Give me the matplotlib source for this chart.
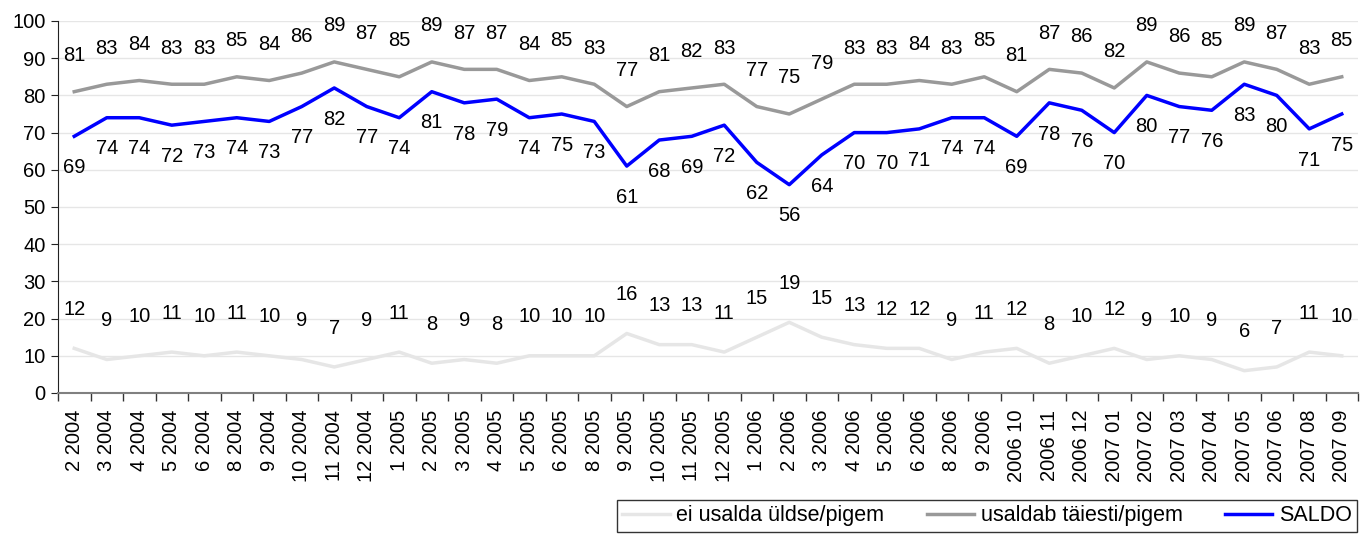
import matplotlib
matplotlib.use("Agg")
import matplotlib.pyplot as plt
import numpy as np

categories = ["2 2004", "3 2004", "4 2004", "5 2004", "6 2004", "8 2004", "9 2004", "10 2004",
              "11 2004", "12 2004", "1 2005", "2 2005", "3 2005", "4 2005", "5 2005", "6 2005",
              "8 2005", "9 2005", "10 2005", "11 2005", "12 2005", "1 2006", "2 2006", "3 2006",
              "4 2006", "5 2006", "6 2006", "8 2006", "9 2006", "2006 10", "2006 11", "2006 12",
              "2007 01", "2007 02", "2007 03", "2007 04", "2007 05", "2007 06", "2007 08", "2007 09"]
ei_usalda = [12, 9, 10, 11, 10, 11, 10, 9, 7, 9, 11, 8, 9, 8, 10, 10, 10, 16, 13, 13, 11, 15, 19, 15,
             13, 12, 12, 9, 11, 12, 8, 10, 12, 9, 10, 9, 6, 7, 11, 10]
usaldab = [81, 83, 84, 83, 83, 85, 84, 86, 89, 87, 85, 89, 87, 87, 84, 85, 83, 77, 81, 82, 83, 77, 75, 79,
           83, 83, 84, 83, 85, 81, 87, 86, 82, 89, 86, 85, 89, 87, 83, 85]
saldo = [69, 74, 74, 72, 73, 74, 73, 77, 82, 77, 74, 81, 78, 79, 74, 75, 73, 61, 68, 69, 72, 62, 56, 64,
         70, 70, 71, 74, 74, 69, 78, 76, 70, 80, 77, 76, 83, 80, 71, 75]

plt.rcParams['font.family'] = ['Liberation Sans', 'DejaVu Sans']
FS = 14.5
W, H = 1371, 536

fig = plt.figure(figsize=(W / 100, H / 100), dpi=100)
ax = fig.add_axes([58 / W, 1 - 393 / H, 1300 / W, 372 / H])

x = np.arange(len(categories))
l1, = ax.plot(x, ei_usalda, color='#e6e6e6', lw=2.5, label='ei usalda üldse/pigem', zorder=3)
l2, = ax.plot(x, usaldab, color='#999999', lw=2.5, label='usaldab täiesti/pigem', zorder=3)
l3, = ax.plot(x, saldo, color='#0000ff', lw=2.5, label='SALDO', zorder=4)

for xi, v in zip(x, ei_usalda):
    ax.annotate(str(v), (xi, v), xytext=(0, 28), textcoords='offset points',
                ha='center', va='center', fontsize=FS)
for xi, v in zip(x, usaldab):
    ax.annotate(str(v), (xi, v), xytext=(0, 26), textcoords='offset points',
                ha='center', va='center', fontsize=FS)
for xi, v in zip(x, saldo):
    ax.annotate(str(v), (xi, v), xytext=(0, -22.5), textcoords='offset points',
                ha='center', va='center', fontsize=FS)

ax.set_xlim(-0.5, len(categories) - 0.5)
ax.set_ylim(0, 100)
ax.set_yticks(np.arange(0, 101, 10))
ax.grid(axis='y', color='#e6e6e6', lw=1)
ax.set_axisbelow(True)

ax.set_xticks(x)
ax.set_xticklabels(categories, rotation=90, fontsize=FS)
ax.set_xticks(np.arange(-0.5, len(categories), 1), minor=True)
ax.tick_params(axis='x', which='major', length=0, pad=12)
ax.tick_params(axis='x', which='minor', length=6, color='#333333', width=1)
ax.tick_params(axis='y', length=5, color='#222222', labelsize=FS, pad=4)

for s in ['top', 'right']:
    ax.spines[s].set_visible(False)
ax.spines['left'].set_color('#222222')
ax.spines['bottom'].set_color('#808080')
ax.spines['bottom'].set_linewidth(1.5)

leg = fig.legend(handles=[l1, l2, l3], loc='upper left',
                 bbox_to_anchor=(617 / W, 1 - 500 / H, 740 / W, 0),
                 mode='expand', ncol=3, fontsize=15.5, frameon=True, fancybox=False,
                 edgecolor='black', handlelength=2.2, handletextpad=0.3,
                 borderaxespad=0, borderpad=0.25, columnspacing=1.0)
leg.get_frame().set_linewidth(1)

fig.savefig('out.png', dpi=100)
